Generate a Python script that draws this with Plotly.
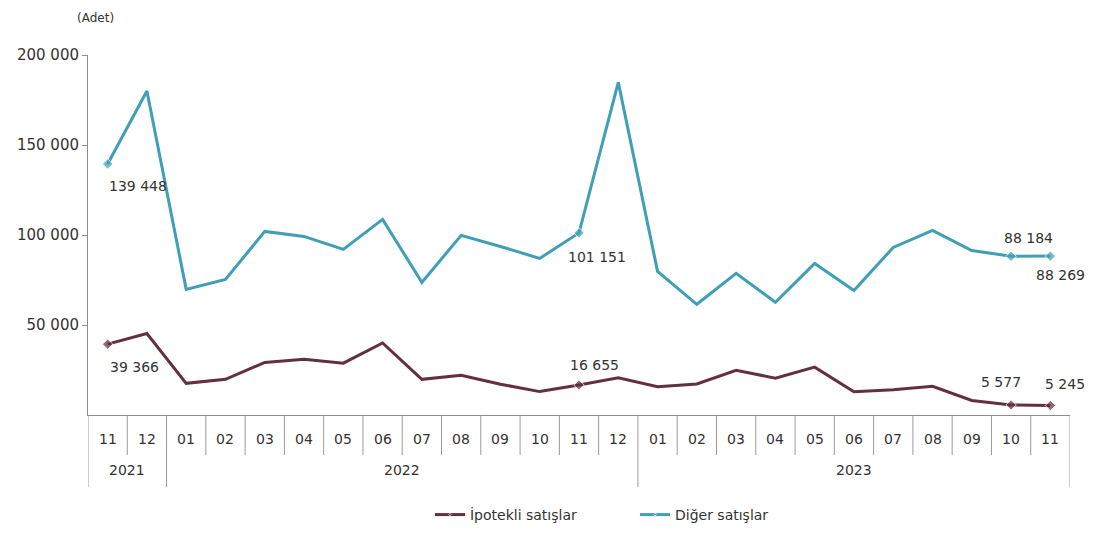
import plotly.graph_objects as go

# ---- data ----
months = ["11", "12", "01", "02", "03", "04", "05", "06", "07", "08", "09", "10", "11", "12",
          "01", "02", "03", "04", "05", "06", "07", "08", "09", "10", "11"]
years = ["2021", "2021"] + ["2022"] * 12 + ["2023"] * 11
ipotekli = [39366, 45300, 17600, 19800, 29200, 31000, 28800, 40000, 19800, 22100, 17100, 13000,
            16655, 20700, 15700, 17200, 24800, 20500, 26600, 12900, 14000, 15900, 8100, 5577, 5245]
diger = [139448, 180000, 69800, 75300, 102000, 99200, 92000, 108700, 73700, 99800, 93600, 87000,
         101151, 184800, 79800, 61500, 78700, 62600, 84200, 69200, 93100, 102600, 91400, 88184, 88269]
series_names = ["İpotekli satışlar", "Diğer satışlar"]
y_ticks = [50000, 100000, 150000, 200000]
y_ticklabels = ["50 000", "100 000", "150 000", "200 000"]
unit_label = "(Adet)"

# labelled points: (series, index, xshift, yshift)
labelled = [("diger", 0, 30, -22), ("ipotekli", 0, 27, -23),
            ("diger", 12, 18, -24), ("ipotekli", 12, 15, 20),
            ("diger", 23, 17, 18), ("diger", 24, 10, -19),
            ("ipotekli", 23, -10, 23), ("ipotekli", 24, 15, 22)]

# ---- styles ----
C_IPO = "#64303F"
C_DIG = "#3E9FB6"
FONT = "DejaVu Sans, Arial, sans-serif"
TXT = "#333333"
AX = "#8c8c8c"

W, H = 1078, 521
M_L, M_R, M_T, M_B = 80, 16, 47, 114
PH = H - M_T - M_B

cats = [f"{y}-{m}" for y, m in zip(years, months)]
n = len(cats)
data = {"ipotekli": ipotekli, "diger": diger}

def fmt(v):
    return f"{v:,}".replace(",", " ")

fig = go.Figure()
for key, name, col in [("ipotekli", series_names[0], C_IPO), ("diger", series_names[1], C_DIG)]:
    idx = {i for s, i, _, _ in labelled if s == key}
    sizes = [8 if i in idx else 0 for i in range(n)]
    fig.add_trace(go.Scatter(
        x=list(range(n)), y=data[key], name=name, mode="lines+markers",
        line=dict(color=col, width=3),
        marker=dict(symbol="diamond", size=sizes, color=col),
        hoverinfo="skip",
    ))

annotations = []
for s, i, xs, ys in labelled:
    annotations.append(dict(x=i, y=data[s][i], text=fmt(data[s][i]), showarrow=False,
                            xshift=xs, yshift=ys, font=dict(family=FONT, size=14, color=TXT)))

# month labels
for i, m in enumerate(months):
    annotations.append(dict(x=i, y=0, xref="x", yref="paper", text=m, showarrow=False,
                            yshift=-34, font=dict(family=FONT, size=14, color=TXT)))
# year labels
groups = {}
for i, y in enumerate(years):
    groups.setdefault(y, []).append(i)
for y, ids in groups.items():
    annotations.append(dict(x=sum(ids) / len(ids), y=0, xref="x", yref="paper", text=y,
                            showarrow=False, yshift=-65, font=dict(family=FONT, size=14, color=TXT)))

annotations.append(dict(x=0, y=1, xref="paper", yref="paper", text=unit_label, showarrow=False,
                        xshift=7, yshift=46, xanchor="center",
                        font=dict(family=FONT, size=12, color=TXT)))

shapes = []
for b in range(n + 1):
    long = b == 0 or b == n or years[b] != years[b - 1]
    ln = 72 if long else 40
    shapes.append(dict(type="line", xref="x", yref="paper", x0=b - 0.5, x1=b - 0.5,
                       y0=0, y1=-ln / PH, line=dict(color="#9a9a9a", width=1)))

fig.update_layout(
    width=W, height=H,
    margin=dict(l=M_L, r=M_R, t=M_T, b=M_B, autoexpand=False),
    paper_bgcolor="white", plot_bgcolor="white",
    showlegend=True,
    legend=dict(orientation="h", x=0.557, xanchor="center", y=-100 / PH, yanchor="middle",
                entrywidth=160, entrywidthmode="pixels",
                font=dict(family=FONT, size=14, color=TXT), bgcolor="rgba(0,0,0,0)"),
    xaxis=dict(range=[-0.5, n - 0.5], showticklabels=False, ticks="", showgrid=False,
               zeroline=False, showline=True, linecolor=AX, linewidth=1, automargin=False),
    yaxis=dict(range=[0, 200000], tickvals=y_ticks, ticktext=y_ticklabels, ticks="outside",
               ticklen=5, tickcolor=AX, showgrid=False, zeroline=False, showline=True,
               linecolor=AX, linewidth=1, automargin=False,
               tickfont=dict(family=FONT, size=15, color=TXT)),
    annotations=annotations,
    shapes=shapes,
    font=dict(family=FONT),
)

fig.write_html("out.html")
